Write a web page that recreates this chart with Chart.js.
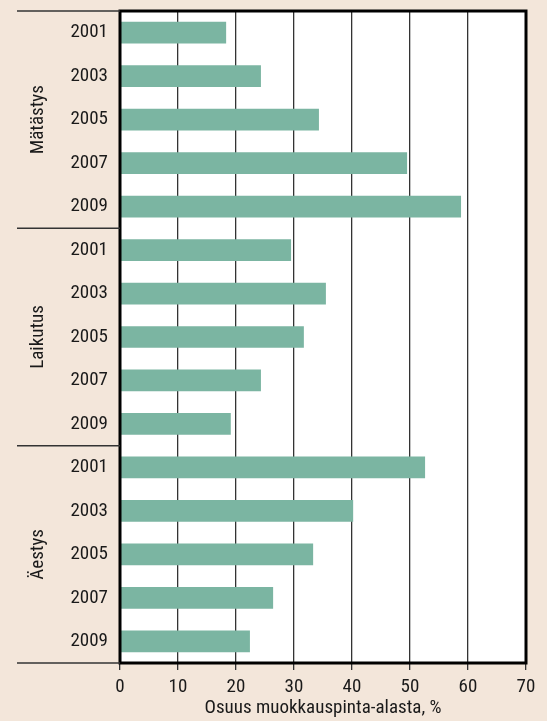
<!DOCTYPE html>
<html>
<head>
<meta charset="utf-8">
<script src="https://cdn.jsdelivr.net/npm/chart.js@4/dist/chart.umd.min.js"></script>
<style>
	html, body { margin: 0; padding: 0; background: #f3e6da; }
	canvas { display: block; }
</style>
</head>
<body>
<canvas id="chart" width="547" height="721"></canvas>
<script>
const groups = ['Mätästys', 'Laikutus', 'Äestys'];
const years = ['2001', '2003', '2005', '2007', '2009'];
const matastys = [18.3, 24.3, 34.3, 49.5, 58.8];
const laikutus = [29.5, 35.5, 31.7, 24.3, 19.1];
const aestys = [52.6, 40.2, 33.3, 26.4, 22.4];
const xTicks = [0, 10, 20, 30, 40, 50, 60, 70];

const labels = [].concat(years, years, years);
const values = [].concat(matastys, laikutus, aestys);
const fontFamily = "'Roboto Condensed', 'DejaVu Sans Condensed', sans-serif";

// white plot area, frame, group separators and rotated group names
const framePlugin = {
	id: 'frame',
	beforeDraw(chart) {
		const a = chart.chartArea;
		const ctx = chart.ctx;
		ctx.save();
		ctx.fillStyle = '#ffffff';
		ctx.fillRect(a.left, a.top, a.right - a.left, a.bottom - a.top);
		ctx.restore();
	},
	afterDraw(chart) {
		const a = chart.chartArea;
		const ctx = chart.ctx;
		const y = chart.scales.y;
		ctx.save();
		ctx.strokeStyle = '#000';
		ctx.lineWidth = 3;
		ctx.strokeRect(a.left, a.top, a.right - a.left, a.bottom - a.top);

		ctx.strokeStyle = '#333';
		ctx.lineWidth = 1.5;
		const step = years.length;
		for (let g = 0; g <= groups.length; g++) {
			let py;
			if (g === 0) py = a.top;
			else if (g === groups.length) py = a.bottom;
			else py = (y.getPixelForValue(g * step - 1) + y.getPixelForValue(g * step)) / 2;
			ctx.beginPath();
			ctx.moveTo(17, py);
			ctx.lineTo(a.left, py);
			ctx.stroke();
		}

		ctx.fillStyle = '#1a1a1a';
		ctx.font = '19px ' + fontFamily;
		ctx.textAlign = 'center';
		ctx.textBaseline = 'middle';
		groups.forEach((name, g) => {
			const cy = (y.getPixelForValue(g * step) + y.getPixelForValue(g * step + step - 1)) / 2;
			ctx.save();
			ctx.translate(38, cy);
			ctx.rotate(-Math.PI / 2);
			ctx.fillText(name, 0, 0);
			ctx.restore();
		});
		ctx.restore();
	}
};

new Chart(document.getElementById('chart').getContext('2d'), {
	type: 'bar',
	data: {
		labels: labels,
		datasets: [{
			data: values,
			backgroundColor: '#7bb5a2',
			borderWidth: 0,
			categoryPercentage: 1,
			barPercentage: 0.5
		}]
	},
	options: {
		indexAxis: 'y',
		responsive: false,
		animation: false,
		layout: {
			padding: { top: 11, right: 21, left: 0, bottom: 0 }
		},
		plugins: {
			legend: { display: false },
			tooltip: { enabled: false }
		},
		scales: {
			x: {
				min: 0,
				max: 70,
				afterBuildTicks(scale) {
					scale.ticks = xTicks.map(v => ({ value: v }));
				},
				afterFit(scale) {
					scale.height = 58;
					scale.paddingLeft = 0;
					scale.paddingRight = 0;
				},
				grid: {
					color: '#333',
					lineWidth: 1.3,
					tickLength: 7,
					drawTicks: true
				},
				border: { display: false },
				ticks: {
					color: '#1a1a1a',
					padding: 6,
					font: { family: fontFamily, size: 19 }
				},
				title: {
					display: true,
					text: 'Osuus muokkauspinta-alasta, %',
					color: '#1a1a1a',
					padding: { top: 0, bottom: 1 },
					font: { family: fontFamily, size: 19 }
				}
			},
			y: {
				afterFit(scale) {
					scale.width = 120;
					scale.paddingTop = 0;
					scale.paddingBottom = 0;
				},
				grid: { display: false },
				border: { display: false },
				ticks: {
					color: '#1a1a1a',
					padding: 4,
					autoSkip: false,
					font: { family: fontFamily, size: 19 }
				}
			}
		}
	},
	plugins: [framePlugin]
});
</script>
</body>
</html>
